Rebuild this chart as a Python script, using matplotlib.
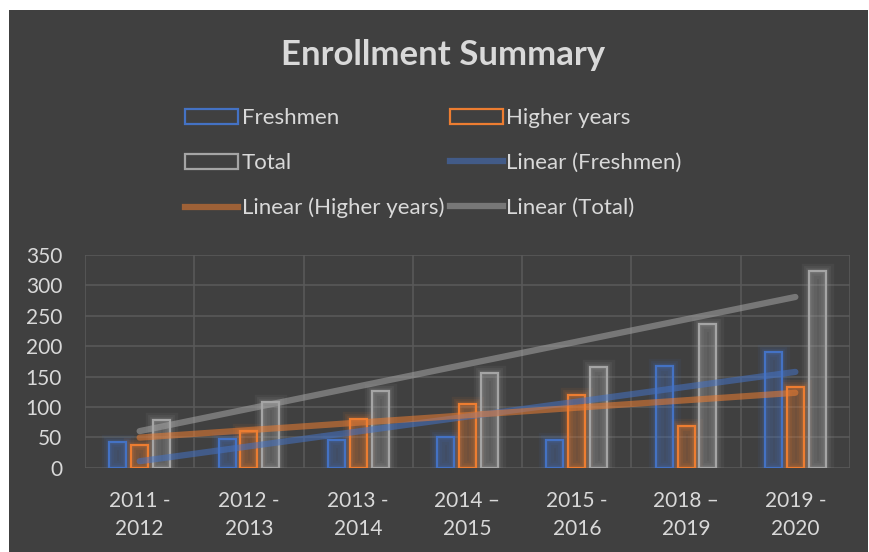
import numpy as np
import matplotlib
matplotlib.use("Agg")
import matplotlib.pyplot as plt
from matplotlib.patches import Rectangle, Patch
from matplotlib.lines import Line2D

# --- Datos ---
years = ["2011 -\n2012", "2012 -\n2013", "2013 -\n2014", "2014 \u2013\n2015",
         "2015 -\n2016", "2018 \u2013\n2019", "2019 -\n2020"]
freshmen = [42, 47, 46, 51, 45, 167, 191]
higher_years = [37, 61, 80, 105, 120, 69, 133]
total = [79, 108, 126, 156, 165, 236, 324]

BG = "#404040"
GRID = "#595959"
TXT = "#d9d9d9"
C_BLUE = "#4472c4"
C_ORANGE = "#ed7d31"
C_GRAY = "#a5a5a5"

plt.rcParams["font.family"] = ["Lato", "DejaVu Sans"]

fig = plt.figure(figsize=(8.7, 5.52), dpi=100)
fig.patch.set_facecolor("white")
# fondo oscuro del gráfico (bordes blancos arriba/izquierda/derecha)
fig.patches.append(Rectangle((9 / 870, 0), (868 - 9) / 870, 1 - 10 / 552,
                             transform=fig.transFigure, facecolor=BG,
                             edgecolor="none", zorder=-10))

ax = fig.add_axes([85 / 870, 1 - 467.7 / 552, 765 / 870, 212.7 / 552])
ax.set_facecolor("none")

x = np.arange(1, len(years) + 1)
w = 0.155
step = 0.2
series = [(freshmen, C_BLUE, -step), (higher_years, C_ORANGE, 0.0), (total, C_GRAY, step)]

for vals, col, off in series:
    # halo (efecto "glow")
    for lw, a in [(11, 0.07), (7, 0.1), (4, 0.12)]:
        ax.bar(x + off, vals, width=w, color="none", edgecolor=col,
               linewidth=lw, alpha=a, zorder=2)
    ax.bar(x + off, vals, width=w, color=col, alpha=0.28, edgecolor="none", zorder=3)
    ax.bar(x + off, vals, width=w, color="none", edgecolor=col, linewidth=1.6, zorder=4)

# Líneas de tendencia lineales
trend_alpha = 0.55
for vals, col in [(freshmen, C_BLUE), (higher_years, C_ORANGE), (total, C_GRAY)]:
    k, b = np.polyfit(x, vals, 1)
    ax.plot(x, k * x + b, color=col, lw=4.5, alpha=trend_alpha,
            solid_capstyle="round", zorder=5)

ax.set_xlim(0.5, 7.5)
ax.set_ylim(0, 350)
ax.set_yticks(np.arange(0, 351, 50))
ax.set_xticks(x)
ax.set_xticklabels(years, linespacing=1.45)
ax.set_xticks(np.arange(0.5, 7.6, 1), minor=True)

ax.grid(True, which="major", axis="y", color=GRID, lw=1.2, zorder=1)
ax.grid(True, which="minor", axis="x", color=GRID, lw=1.2, zorder=1)
ax.tick_params(which="both", length=0)
ax.tick_params(axis="y", labelsize=15, labelcolor=TXT, pad=16.5)
ax.tick_params(axis="x", labelsize=15, labelcolor=TXT, pad=17)
for s in ax.spines.values():
    s.set_visible(False)

fig.text(0.509, 1 - 55 / 552, "Enrollment Summary", ha="center", va="center",
         fontsize=25, fontweight="bold", color=TXT)

handles = [
    Patch(facecolor="none", edgecolor=C_BLUE, lw=1.6, label="Freshmen"),
    Patch(facecolor="none", edgecolor=C_GRAY, lw=1.6, label="Total"),
    Line2D([], [], color=C_ORANGE, lw=4.5, alpha=trend_alpha, label="Linear (Higher years)"),
    Patch(facecolor="none", edgecolor=C_ORANGE, lw=1.6, label="Higher years"),
    Line2D([], [], color=C_BLUE, lw=4.5, alpha=trend_alpha, label="Linear (Freshmen)"),
    Line2D([], [], color=C_GRAY, lw=4.5, alpha=trend_alpha, label="Linear (Total)"),
]
leg = fig.legend(handles=handles, ncol=2, loc="upper left",
                 bbox_to_anchor=(185 / 870, 1 - 108 / 552), frameon=False,
                 fontsize=16, labelcolor=TXT, handlelength=2.4, handleheight=0.65,
                 handletextpad=0.15, columnspacing=0.25, labelspacing=1.12,
                 borderpad=0, borderaxespad=0)

fig.savefig("out.png", dpi=100, facecolor=fig.get_facecolor())
